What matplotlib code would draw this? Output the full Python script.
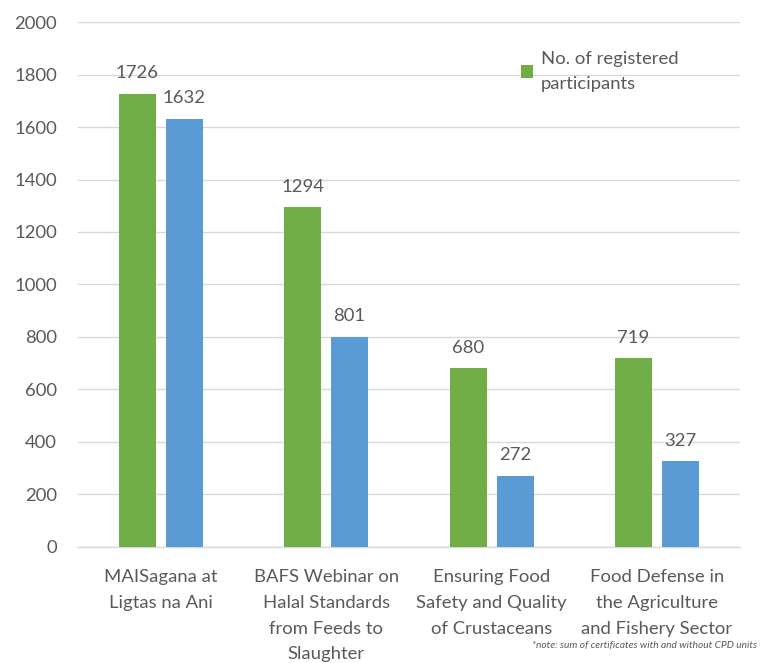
import matplotlib
matplotlib.use("Agg")
import matplotlib.pyplot as plt
import numpy as np

categories = ["MAISagana at\nLigtas na Ani",
              "BAFS Webinar on\nHalal Standards\nfrom Feeds to\nSlaughter",
              "Ensuring Food\nSafety and Quality\nof Crustaceans",
              "Food Defense in\nthe Agriculture\nand Fishery Sector"]
registered = [1726, 1294, 680, 719]
certificates = [1632, 801, 272, 327]
yticks = [0, 200, 400, 600, 800, 1000, 1200, 1400, 1600, 1800, 2000]

GREEN = "#70AD47"
BLUE = "#5B9BD5"
TXT = "#595959"
GRID = "#D9D9D9"
FS = 13.3

plt.rcParams['font.family'] = ['Lato', 'DejaVu Sans']

fig = plt.figure(figsize=(7.69, 6.63), dpi=100)
ax = fig.add_axes([0.1014, 0.175, 0.8606, 0.7918])

x = np.arange(len(categories))
w = 0.224
off = 0.142
b1 = ax.bar(x - off, registered, w, color=GREEN, label="No. of registered\nparticipants", zorder=3)
b2 = ax.bar(x + off, certificates, w, color=BLUE, zorder=3)

for rects, vals in ((b1, registered), (b2, certificates)):
    for r, v in zip(rects, vals):
        ax.annotate(str(v), (r.get_x() + r.get_width() / 2, v), xytext=(0, 9),
                    textcoords="offset points", ha="center", va="bottom",
                    fontsize=FS, color=TXT)

ax.set_xlim(-0.5, len(categories) - 0.5)
ax.set_ylim(0, 2000)
ax.set_yticks(yticks)
ax.set_yticklabels([str(t) for t in yticks], fontsize=FS, color=TXT)
ax.set_xticks(x)
ax.set_xticklabels(categories, fontsize=FS, color=TXT, linespacing=1.75, va="top")
ax.tick_params(axis="both", length=0)
ax.tick_params(axis="y", pad=15)
ax.tick_params(axis="x", pad=16)
ax.grid(axis="y", color=GRID, linewidth=1, zorder=0)
for s in ("top", "right", "left"):
    ax.spines[s].set_visible(False)
ax.spines["bottom"].set_color(GRID)
ax.spines["bottom"].set_linewidth(1)

leg = ax.legend(loc="upper left", bbox_to_anchor=(0.645, 0.977), frameon=False,
                fontsize=FS, handlelength=0.65, handleheight=0.65,
                handletextpad=0.4, labelcolor=TXT)
for t in leg.get_texts():
    t.set_linespacing(1.75)

fig.text(0.985, 0.026, "*note: sum of certificates with and without CPD units",
         ha="right", va="center", fontsize=7.3, style="italic", color=TXT)

fig.savefig("out.png", dpi=100, facecolor="white")
